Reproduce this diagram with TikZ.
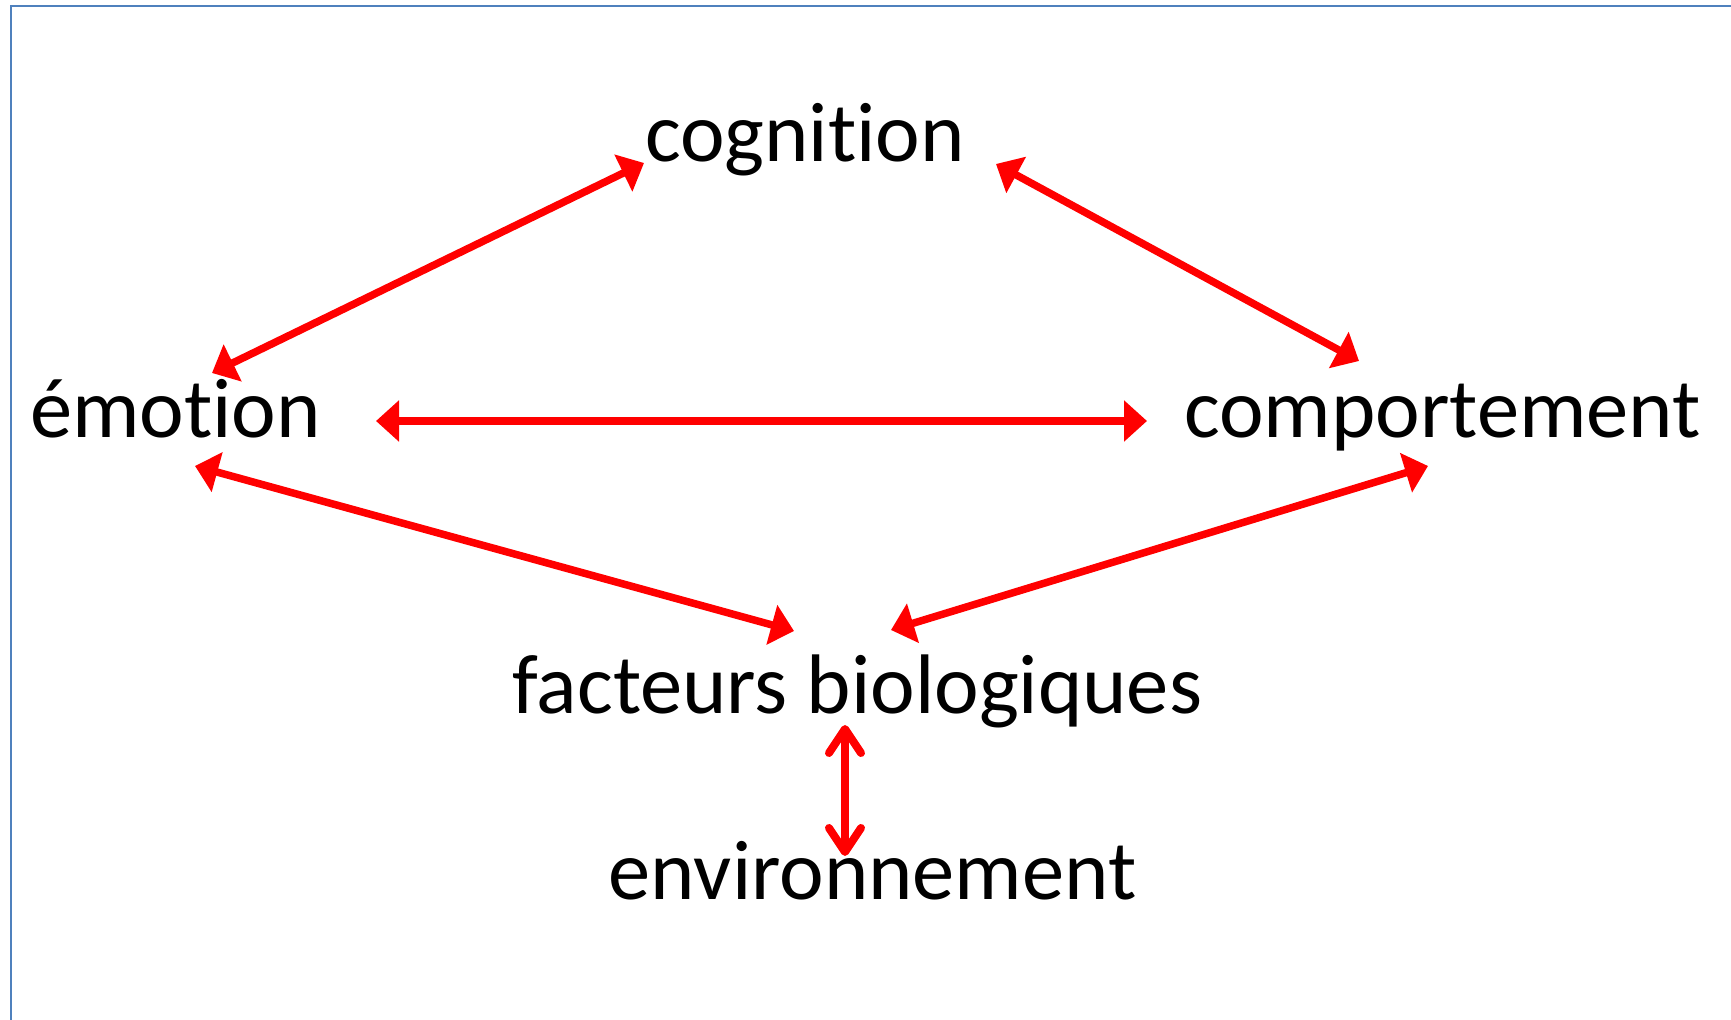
\documentclass[tikz,border=0pt]{standalone}
\usepackage{fontspec}
\setmainfont{Carlito}[Ligatures=NoCommon]
\usetikzlibrary{arrows.meta}
\definecolor{frameblue}{RGB}{79,129,189}
\begin{document}
\begin{tikzpicture}[x=0.5pt,y=-0.5pt,
  word/.style={font=\fontsize{42.25}{50}\selectfont, inner sep=0pt, anchor=base},
  link/.style={draw=red, line width=3.75pt, {Triangle[length=11.5pt,width=20pt]}-{Triangle[length=11.5pt,width=20pt]}},
  barblink/.style={draw=red, line width=4pt, line cap=round,
    {Straight Barb[length=12pt,width=16pt,round]}-{Straight Barb[length=12pt,width=16pt,round]}}
]
\useasboundingbox (0,0) rectangle (1731,1020);
\fill[white] (0,0) rectangle (1731,1020);
% frame along the top and left edges
\draw[frameblue, line width=1.4pt] (11,1020) -- (11,6) -- (1731,6);

% terms
\node[word] (cog) at (805,162) {cognition};
\node[word] (emo) at (175.5,438) {émotion};
\node[word] (comp) at (1442.5,438) {comportement};
\node[word] (bio) at (857.5,714) {facteurs biologiques};
\node[word] (env) at (872.5,900) {environnement};

% arrow ends
\coordinate (emo-up) at (212,373);
\coordinate (cog-left) at (644,163);
\coordinate (cog-right) at (996,164);
\coordinate (comp-up) at (1359,361);
\coordinate (emo-right) at (376,421);
\coordinate (comp-left) at (1147,421);
\coordinate (emo-down) at (195,466);
\coordinate (bio-left) at (794,631);
\coordinate (bio-right) at (891,630);
\coordinate (comp-down) at (1428,466);
\coordinate (bio-down) at (845,725);
\coordinate (env-up) at (845,856);

% relations
\draw[link] (emo-up) -- (cog-left);
\draw[link] (cog-right) -- (comp-up);
\draw[link] (emo-right) -- (comp-left);
\draw[link] (emo-down) -- (bio-left);
\draw[link] (bio-right) -- (comp-down);
\draw[barblink] (bio-down) -- (env-up);
\end{tikzpicture}
\end{document}
